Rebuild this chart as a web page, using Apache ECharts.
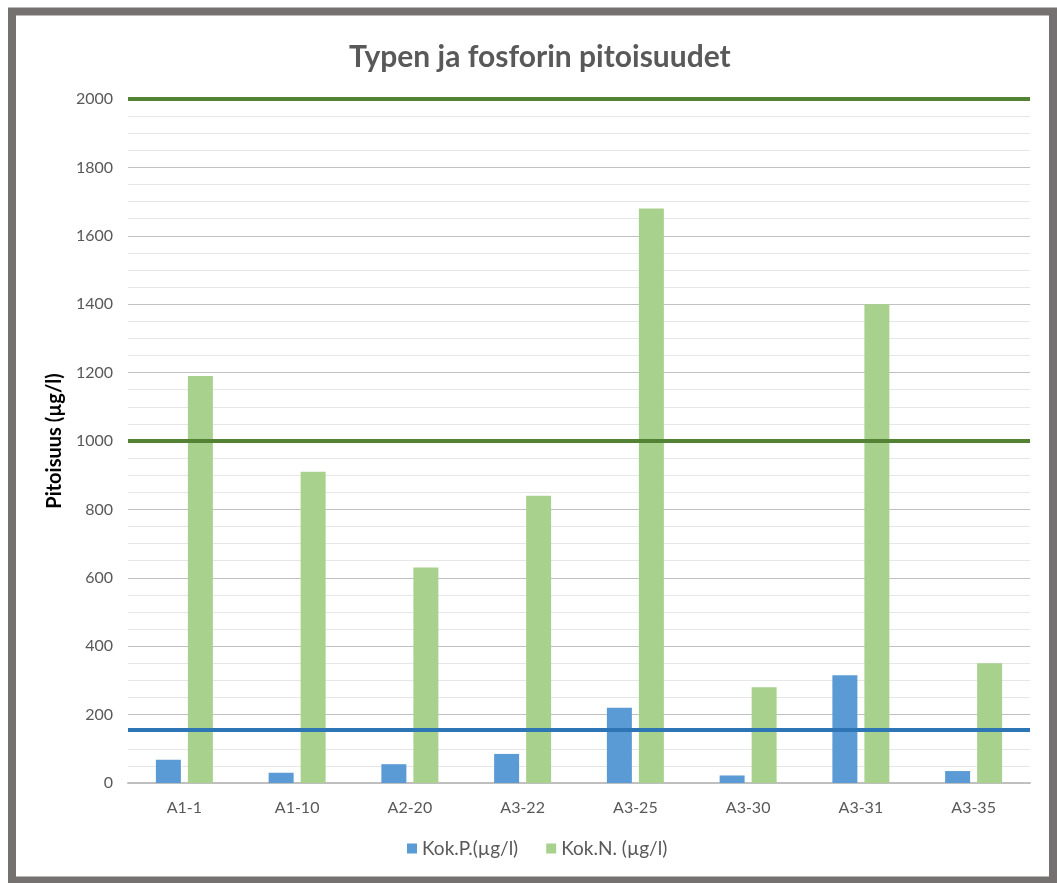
<!DOCTYPE html>
<html>
<head>
<meta charset="utf-8">
<script src="https://cdn.jsdelivr.net/npm/echarts@6/dist/echarts.min.js"></script>
<style>
  html, body { margin: 0; padding: 0; background: #fff; }
  #chart { width: 1057px; height: 883px; }
</style>
</head>
<body>
<div id="chart"></div>
<script>
// sampling points
const categories = ['A1-1', 'A1-10', 'A2-20', 'A3-22', 'A3-25', 'A3-30', 'A3-31', 'A3-35'];
// total phosphorus (µg/l)
const kokP = [68, 30, 55, 85, 220, 22, 315, 35];
// total nitrogen (µg/l)
const kokN = [1190, 910, 630, 840, 1680, 280, 1400, 350];
// hand drawn limit lines
const limitN = [2000, 1000];
const limitP = [155];

const textColor = '#595959';
const font = 'Lato, "Open Sans", sans-serif';

let chart = echarts.init(document.getElementById('chart'));

let option = {
    animation: false,
    textStyle: { fontFamily: font },
    title: {
        text: 'Typen ja fosforin pitoisuudet',
        left: 344,
        top: 37,
        textStyle: {
            fontFamily: font,
            fontSize: 30,
            fontWeight: 'bold',
            color: textColor
        }
    },
    legend: {
        bottom: 20,
        left: 402,
        itemWidth: 10,
        itemHeight: 10,
        itemGap: 28,
        icon: 'rect',
        textStyle: { fontSize: 19, color: textColor, fontFamily: font },
        data: ['Kok.P.(µg/l)', 'Kok.N. (µg/l)']
    },
    grid: {
        left: 128,
        right: 27,
        top: 99,
        bottom: 100
    },
    xAxis: {
        type: 'category',
        data: categories,
        axisTick: { show: false },
        axisLine: { lineStyle: { color: '#bfbfbf', width: 2 } },
        axisLabel: { fontSize: 16, color: textColor, margin: 17, fontFamily: font }
    },
    yAxis: {
        type: 'value',
        min: 0,
        max: 2000,
        interval: 200,
        name: 'Pitoisuus (µg/l)',
        nameLocation: 'middle',
        nameGap: 61,
        nameRotate: 90,
        nameTextStyle: { fontSize: 20, fontWeight: 'bold', color: '#000', fontFamily: font },
        axisLine: { show: false },
        axisTick: { show: false },
        axisLabel: {
            fontSize: 16,
            color: textColor,
            margin: 15,
            fontFamily: font,
            formatter: v => String(v)
        },
        splitLine: { lineStyle: { color: '#c0c0c0', width: 1 } },
        minorTick: { show: false, splitNumber: 4 },
        minorSplitLine: { show: true, lineStyle: { color: '#e6e6e6', width: 1 } }
    },
    series: [
        {
            name: 'Kok.P.(µg/l)',
            type: 'bar',
            data: kokP,
            barWidth: 25,
            barGap: '28%',
            itemStyle: { color: '#5b9bd5' },
            markLine: {
                silent: true,
                symbol: 'none',
                label: { show: false },
                lineStyle: { color: '#2e75b6', width: 4, type: 'solid' },
                data: limitP.map(v => ({ yAxis: v }))
            }
        },
        {
            name: 'Kok.N. (µg/l)',
            type: 'bar',
            data: kokN,
            barWidth: 25,
            itemStyle: { color: '#a9d18e' },
            markLine: {
                silent: true,
                symbol: 'none',
                label: { show: false },
                lineStyle: { color: '#548235', width: 4, type: 'solid' },
                data: limitN.map(v => ({ yAxis: v }))
            }
        }
    ],
    graphic: [
        {
            type: 'rect',
            shape: { x: 12, y: 11.5, width: 1041, height: 869 },
            style: { fill: 'none', stroke: '#767171', lineWidth: 8 },
            z: 100
        }
    ]
};

chart.setOption(option, true);
</script>
</body>
</html>
